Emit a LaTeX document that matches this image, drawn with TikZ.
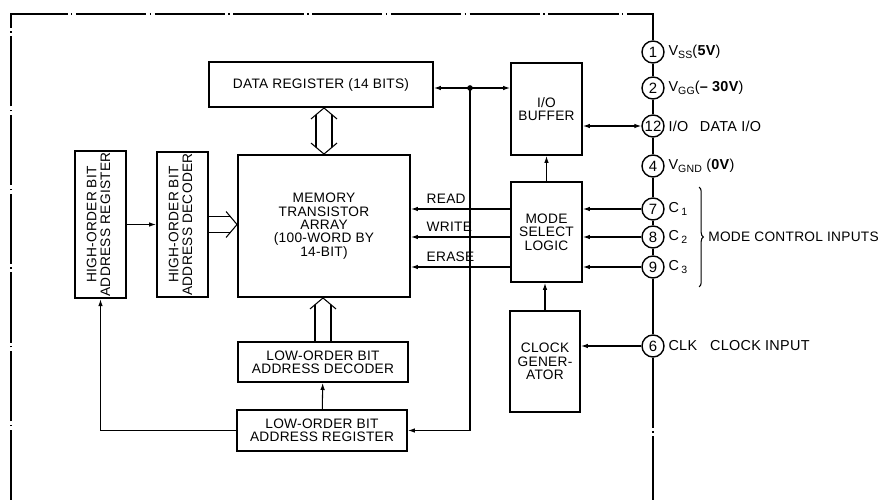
\documentclass[tikz,border=0pt]{standalone}
\usepackage{fontspec}
\setmainfont{Liberation Sans}[LetterSpace=2]
\usepackage{graphicx}
\usepackage{tikz}
\usetikzlibrary{arrows.meta, positioning, calc, decorations.pathreplacing}

\newcommand{\pinsub}[1]{\raisebox{-0.35ex}{\fontsize{6}{6}\selectfont #1}}

\begin{document}
\begin{tikzpicture}[
  x=0.02cm, y=-0.02cm,
  font=\fontsize{7.8}{7.6}\selectfont,
  >={Latex[length=4pt,width=2.6pt]},
  blk/.style={draw, line width=1.1pt, inner sep=1pt, align=center},
  arr/.style={->, line width=0.6pt},
  wire/.style={line width=0.6pt},
  pincirc/.style={draw, circle, line width=0.8pt, minimum size=0.44cm,
                  inner sep=0pt, font=\fontsize{8.5}{8.5}\selectfont},
  plabel/.style={right=2pt of #1, inner sep=0pt, font=\fontsize{8.2}{8.2}\selectfont},
  frame/.style={line width=0.6pt, dash pattern=on 40pt off 2pt on 0.8pt off 2pt}
]
  \useasboundingbox (0,0) rectangle (890,500);

  % blocks
  \node[blk, minimum width=4.48cm, minimum height=0.9cm] (datareg) at (321,84.5)
    {DATA REGISTER (14 BITS)};
  \node[blk, minimum width=3.44cm, minimum height=2.84cm] (mem) at (324,226)
    {MEMORY\\TRANSISTOR\\ARRAY\\(100-WORD BY\\14-BIT)};
  \node[blk, minimum width=1.02cm, minimum height=2.86cm] (hireg) at (100.5,224.5)
    {\rotatebox{90}{\begin{tabular}{@{}c@{}}HIGH-ORDER BIT\\ADDRESS REGISTER\end{tabular}}};
  \node[blk, minimum width=1.02cm, minimum height=2.86cm] (hidec) at (182.5,224.5)
    {\rotatebox{90}{\begin{tabular}{@{}c@{}}HIGH-ORDER BIT\\ADDRESS DECODER\end{tabular}}};
  \node[blk, minimum width=3.4cm, minimum height=0.8cm] (lodec) at (323,362)
    {LOW-ORDER BIT\\ADDRESS DECODER};
  \node[blk, minimum width=3.4cm, minimum height=0.82cm] (loreg) at (322,430.5)
    {LOW-ORDER BIT\\ADDRESS REGISTER};
  \node[blk, minimum width=1.42cm, minimum height=1.84cm] (iobuf) at (546.5,109)
    {I/O\\BUFFER};
  \node[blk, minimum width=1.42cm, minimum height=2cm] (mode) at (546.5,232)
    {MODE\\SELECT\\LOGIC};
  \node[blk, minimum width=1.4cm, minimum height=2.02cm] (clk) at (545,361.5)
    {CLOCK\\GENER-\\ATOR};

  % pins
  \node[pincirc] (p1)  at (653,52)  {1};
  \node[pincirc] (p2)  at (653,88)  {2};
  \node[pincirc] (p12) at (653,126) {12};
  \node[pincirc] (p4)  at (653,166) {4};
  \node[pincirc] (p7)  at (653,209) {7};
  \node[pincirc] (p8)  at (653,237) {8};
  \node[pincirc] (p9)  at (653,267) {9};
  \node[pincirc] (p6)  at (653,346) {6};

  \node[plabel=p1]  (l1)  {V\pinsub{SS}(\textbf{5V})};
  \node[plabel=p2]  (l2)  {V\pinsub{GG}(\textbf{– 30V})};
  \node[plabel=p12] (l12) {I/O\hspace{0.8em}DATA I/O};
  \node[plabel=p4]  (l4)  {V\pinsub{GND} (\textbf{0V})};
  \node[plabel=p7]  (l7)  {C\,\pinsub{1}};
  \node[plabel=p8]  (l8)  {C\,\pinsub{2}};
  \node[plabel=p9]  (l9)  {C\,\pinsub{3}};
  \node[plabel=p6]  (l6)  {CLK\hspace{0.9em}CLOCK INPUT};

  \coordinate (bt) at (699,187);
  \coordinate (bb) at (699,287);
  \draw[wire, decorate, decoration={brace, amplitude=2.5pt}] (bt) -- (bb);
  \node[right, inner sep=0pt] (mci) at (708,237) {MODE CONTROL INPUTS};

  % outline of the chip
  \coordinate (ftl) at (11,14);
  \coordinate (fbl) at (11,500);
  \draw[frame] (fbl) -- (ftl) -| (p1);
  \foreach \a/\b in {p1/p2, p2/p12, p12/p4, p4/p7, p7/p8, p8/p9}
    \draw[wire] (\a) -- (\b);
  \draw[frame] (p9) -- (p6);
  \draw[frame] (p6) -- (p6 |- fbl);

  % data path
  \coordinate (jn) at (470,88);
  \draw[arr] (jn) -- (jn -| datareg.east);
  \draw[arr] (jn) -- (jn -| iobuf.west);
  \fill (jn) circle (1.6pt);
  \draw[arr] (jn) |- (loreg.east);
  \draw[<->, wire] (iobuf.east |- p12) -- (p12);

  % control
  \draw[arr] (mode) -- (iobuf);
  \draw[arr] (clk.north) -- (clk.north |- mode.south);
  \foreach \p in {p7, p8, p9}
    \draw[arr] (\p) -- (\p -| mode.east);
  \draw[arr] (p6) -- (p6 -| clk.east);
  \draw[arr] (mode.west |- p7) -- node[pos=1, above right, inner sep=3pt, xshift=0.2cm] {READ} (mem.east |- p7);
  \draw[arr] (mode.west |- p8) -- node[pos=1, above right, inner sep=3pt, xshift=0.2cm] {WRITE} (mem.east |- p8);
  \draw[arr] (mode.west |- p9) -- node[pos=1, above right, inner sep=3pt, xshift=0.2cm] {ERASE} (mem.east |- p9);

  % address path
  \draw[arr] (hireg) -- (hidec);
  \draw[arr] (loreg) -- (lodec);
  \draw[arr] (loreg.west) -| (hireg.south);

  % wide buses
  \draw[wire] ($(mem.north)+(-13,-11)$) -- (mem.north) -- ++(13,-11);
  \draw[wire] ($(mem.north |- datareg.south)+(-13,11)$) -- (mem.north |- datareg.south) -- ++(13,11);
  \draw[wire] ($(mem.north)+(-8,-7)$) -- ($(mem.north |- datareg.south)+(-8,7)$)
              ($(mem.north)+(8,-7)$) -- ($(mem.north |- datareg.south)+(8,7)$);
  \draw[wire] ($(mem.west |- hidec)+(-11,-13)$) -- (mem.west |- hidec) -- ++(-11,13);
  \draw[wire] ($(hidec.east)+(0,-8)$) -- ($(mem.west |- hidec)+(-7,-8)$)
              ($(hidec.east)+(0,8)$) -- ($(mem.west |- hidec)+(-7,8)$);
  \draw[wire] ($(lodec.north |- mem.south)+(-13,11)$) -- (lodec.north |- mem.south) -- ++(13,11);
  \draw[wire] ($(lodec.north)+(-8,0)$) -- ($(lodec.north |- mem.south)+(-8,7)$)
              ($(lodec.north)+(8,0)$) -- ($(lodec.north |- mem.south)+(8,7)$);
\end{tikzpicture}
\end{document}
